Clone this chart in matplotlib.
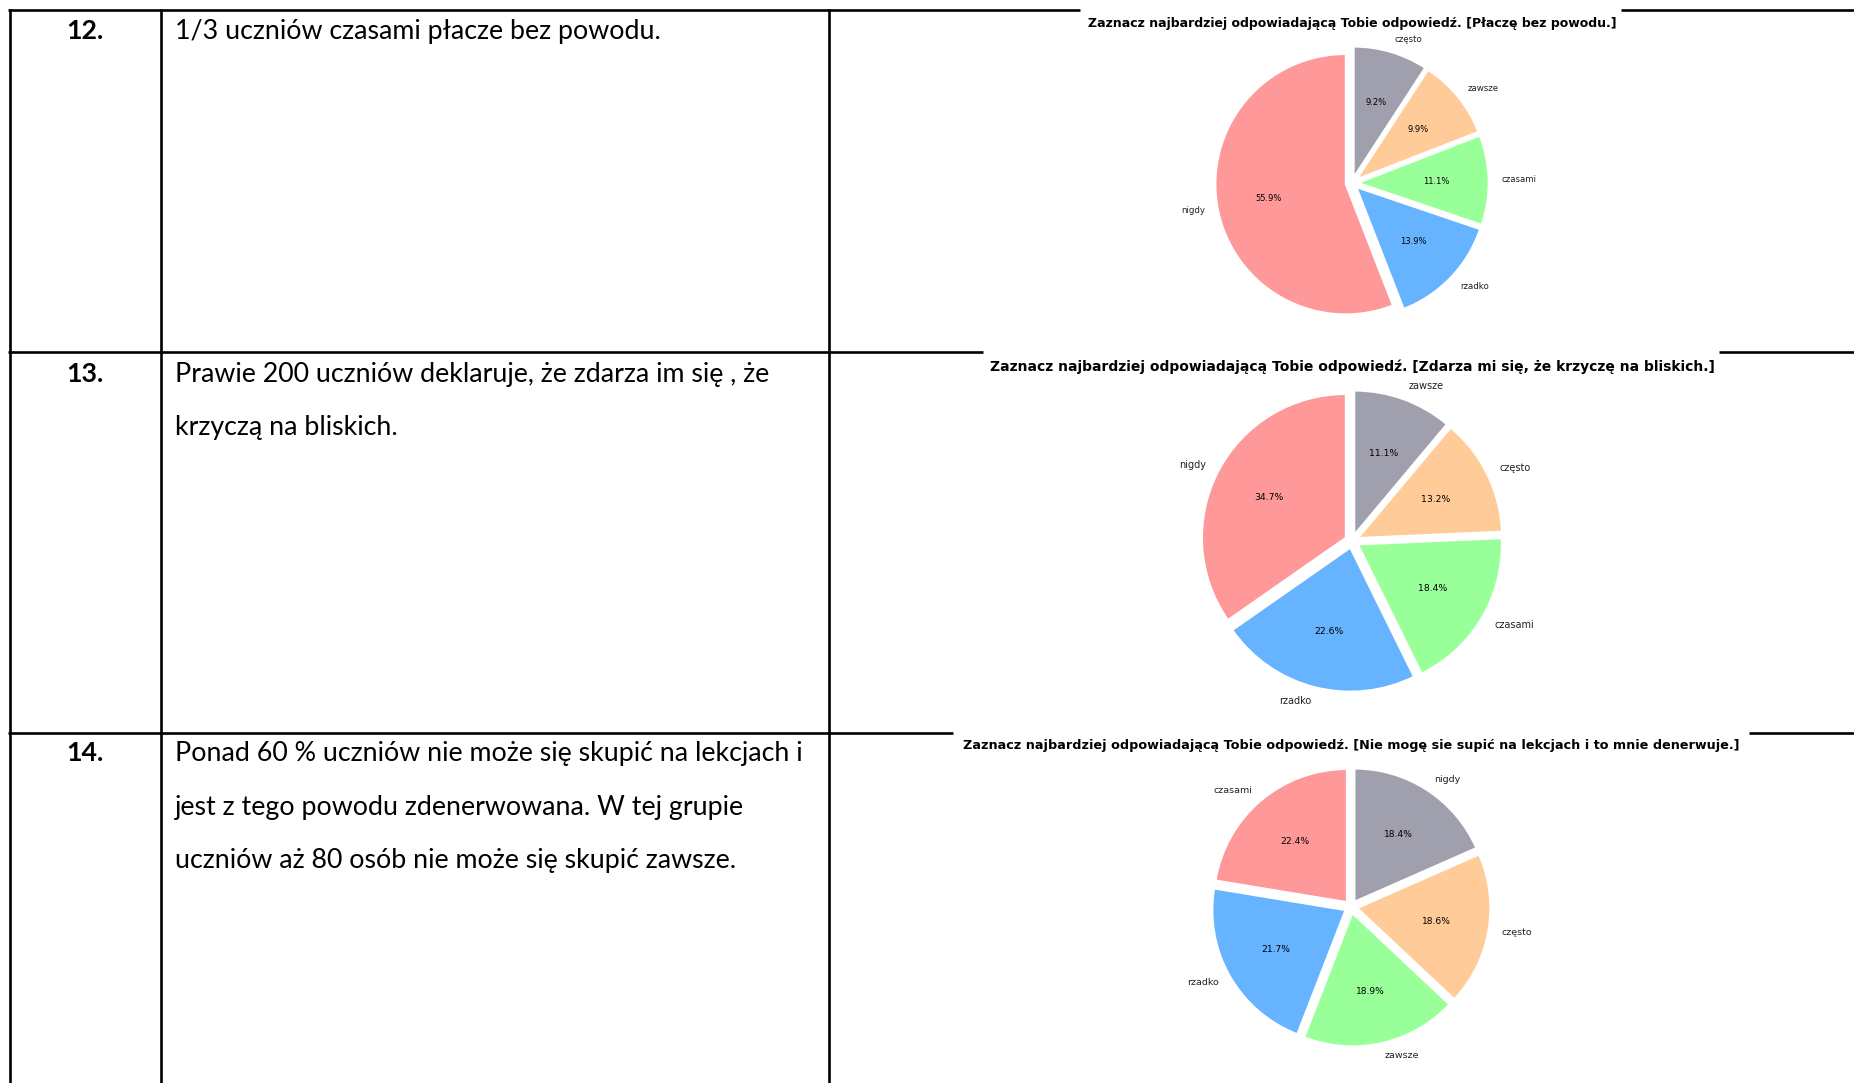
import matplotlib
matplotlib.use("Agg")
import matplotlib.pyplot as plt
from matplotlib.lines import Line2D

W, H = 1854, 1083
DPI = 100

# ---- data ----
row_numbers = ["12.", "13.", "14."]
row_texts = [
    ["1/3 uczniów czasami płacze bez powodu."],
    ["Prawie 200 uczniów deklaruje, że zdarza im się , że",
     "krzyczą na bliskich."],
    ["Ponad 60 % uczniów nie może się skupić na lekcjach i",
     "jest z tego powodu zdenerwowana. W tej grupie",
     "uczniów aż 80 osób nie może się skupić zawsze."],
]

titles = [
    "Zaznacz najbardziej odpowiadającą Tobie odpowiedź. [Płaczę bez powodu.]",
    "Zaznacz najbardziej odpowiadającą Tobie odpowiedź. [Zdarza mi się, że krzyczę na bliskich.]",
    "Zaznacz najbardziej odpowiadającą Tobie odpowiedź. [Nie mogę sie supić na lekcjach i to mnie denerwuje.]",
]

labels_1 = ["nigdy", "rzadko", "czasami", "zawsze", "często"]
values_1 = [55.9, 13.9, 11.1, 9.9, 9.2]

labels_2 = ["nigdy", "rzadko", "czasami", "często", "zawsze"]
values_2 = [34.7, 22.6, 18.4, 13.2, 11.1]

labels_3 = ["czasami", "rzadko", "zawsze", "często", "nigdy"]
values_3 = [22.4, 21.7, 18.9, 18.6, 18.4]

colors = ["#ff9999", "#66b3ff", "#99ff99", "#ffcc99", "#a09fad"]

# ---- figure ----
fig = plt.figure(figsize=(W / DPI, H / DPI), dpi=DPI)
fig.patch.set_facecolor("white")


def fx(x):
    return x / W


def fy(y):
    return 1 - y / H


LW = 1.9


def hline(y, x0, x1):
    fig.add_artist(Line2D([fx(x0), fx(x1)], [fy(y), fy(y)], color="black",
                          lw=LW, solid_capstyle="butt"))


def vline(x, y0, y1):
    fig.add_artist(Line2D([fx(x), fx(x)], [fy(y0), fy(y1)], color="black",
                          lw=LW, solid_capstyle="butt"))


# horizontal table lines (interrupted where the chart pictures lie on top)
hline(10, 8, 1080); hline(10, 1621, W)
hline(352, 8, 983); hline(352, 1719, W)
hline(733, 8, 953); hline(733, 1749, W)
# vertical table lines
for x in (9.5, 161, 829):
    vline(x, 9, H)

# table texts
TXT_FONT = "Lato"
TXT_SIZE = 19.3
row_baselines = [39, 382, 761]
LINE_STEP = 53.5
for num, lines, yb in zip(row_numbers, row_texts, row_baselines):
    fig.text(fx(85), fy(yb), num, ha="center", va="baseline",
             fontfamily=TXT_FONT, fontweight="bold", fontsize=TXT_SIZE)
    for i, ln in enumerate(lines):
        fig.text(fx(175), fy(yb + i * LINE_STEP), ln, ha="left", va="baseline",
                 fontfamily=TXT_FONT, fontsize=TXT_SIZE)

# pie charts
charts = [
    dict(labels=labels_1, values=values_1, title=titles[0], cx=1352, cy=183, r=130,
         ty=23, tsize=9.0, lsize=6.2, psize=6.0),
    dict(labels=labels_2, values=values_2, title=titles[1], cx=1352, cy=541, r=143.5,
         ty=367, tsize=10.0, lsize=7.0, psize=6.7),
    dict(labels=labels_3, values=values_3, title=titles[2], cx=1351, cy=907, r=132.7,
         ty=746, tsize=9.2, lsize=6.8, psize=6.6),
]

for c in charts:
    half = 1.25 * c["r"]
    ax = fig.add_axes([fx(c["cx"] - half), fy(c["cy"] + half),
                       2 * half / W, 2 * half / H])
    ax.pie(c["values"], labels=c["labels"], colors=colors,
           autopct="%1.1f%%", startangle=90, counterclock=True,
           explode=[0.05] * len(c["values"]),
           wedgeprops=dict(edgecolor="white", linewidth=1.2),
           textprops=dict(fontsize=c["lsize"], color="#222222"))
    for t in ax.texts:
        if t.get_text().endswith("%"):
            t.set_fontsize(c["psize"])
            t.set_color("black")
    ax.set_xlim(-1.25, 1.25)
    ax.set_ylim(-1.25, 1.25)
    ax.set_aspect("equal")
    ax.axis("off")
    fig.text(fx(c["cx"]), fy(c["ty"]), c["title"], ha="center", va="center",
             fontfamily="DejaVu Sans", fontweight="bold", fontsize=c["tsize"])

fig.savefig("out.png", dpi=DPI, facecolor="white")
